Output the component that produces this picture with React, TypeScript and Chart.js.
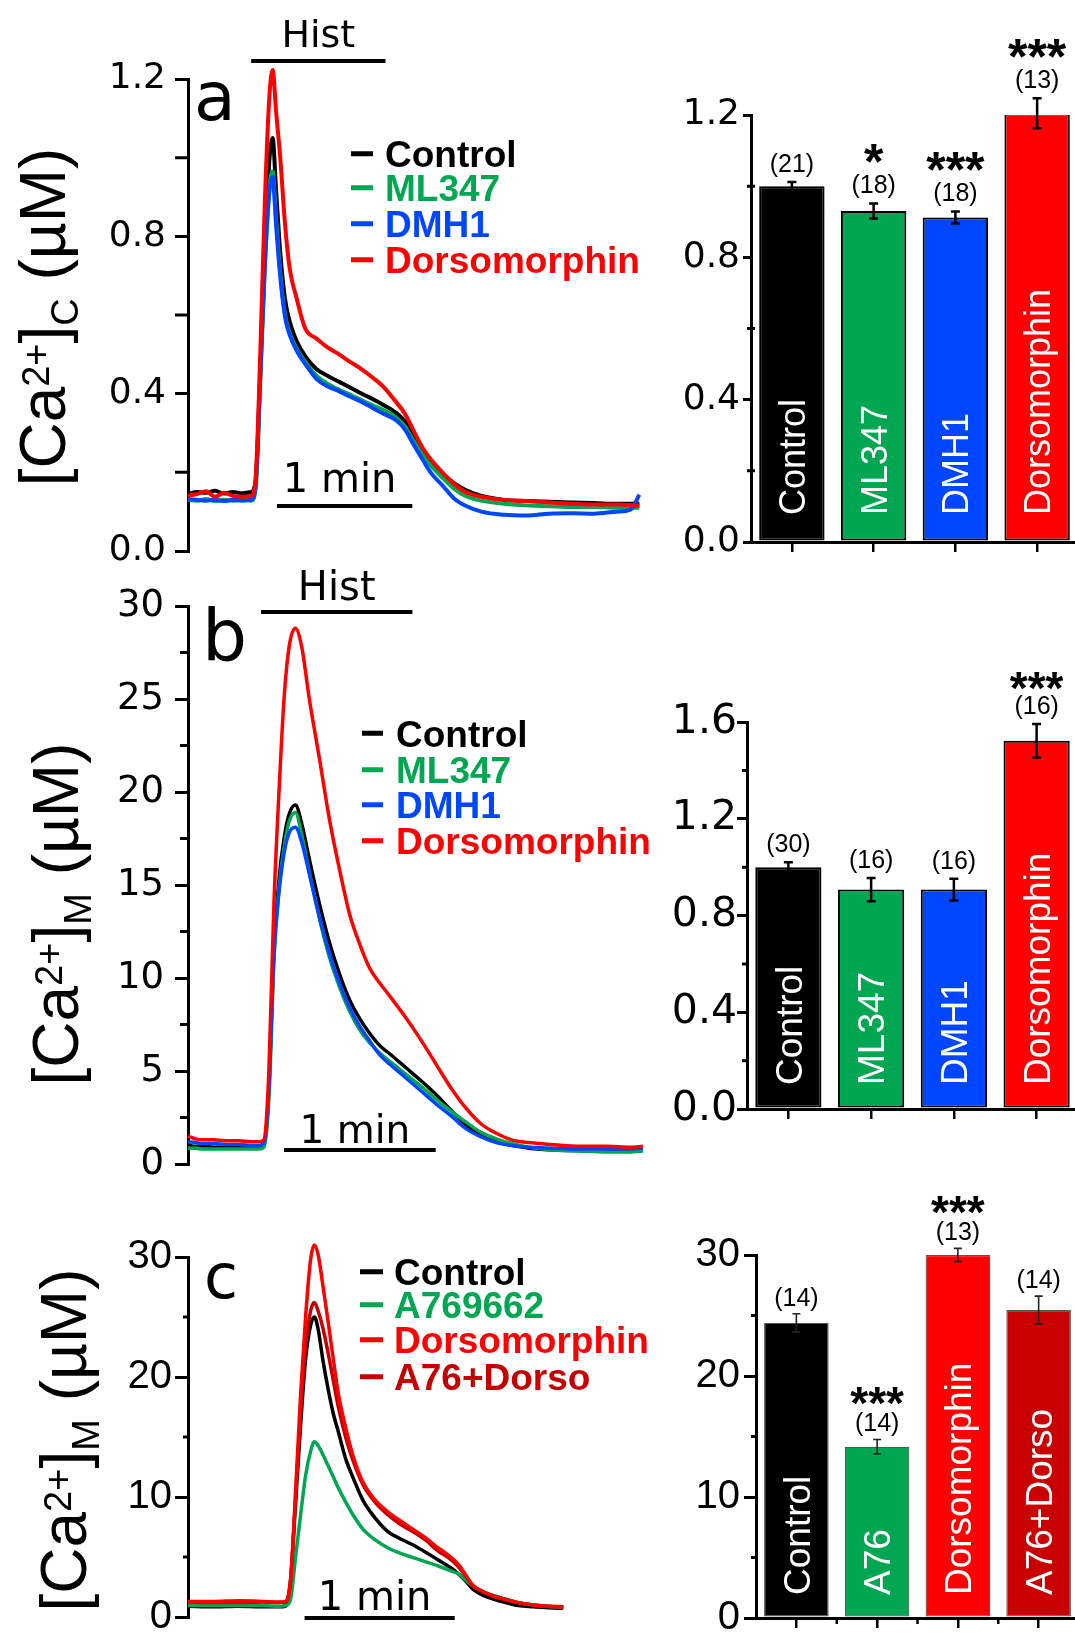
import React, { useEffect, useRef } from "react";
import { Chart, registerables } from "chart.js";

Chart.register(...registerables);

const SANS = '"Liberation Sans", Arial, Helvetica, sans-serif';
const WIDE = '"DejaVu Sans", Verdana, sans-serif';

const BLACK = "#000000";
const GREEN = "#00A651";
const BLUE = "#0046FF";
const RED = "#FF0000";
const DARK_RED = "#C40000";

// ---------- Panel a: cytosolic [Ca2+] (µM) against time (s) ----------
const timeA = [0, 4, 8, 12, 16, 20, 24, 28, 30, 32, 34, 36, 37.5, 39, 41, 43, 45, 48, 52, 57, 62, 67, 72, 77, 82, 87, 92, 96, 100, 104, 108, 113, 118, 123, 130, 140, 150, 160, 170, 180, 190, 196, 200];
const controlA = [0.145, 0.15, 0.148, 0.153, 0.146, 0.15, 0.147, 0.15, 0.18, 0.45, 0.75, 0.99, 1.05, 0.92, 0.75, 0.64, 0.585, 0.535, 0.495, 0.462, 0.445, 0.43, 0.415, 0.4, 0.386, 0.37, 0.352, 0.33, 0.29, 0.255, 0.224, 0.195, 0.172, 0.155, 0.14, 0.13, 0.127, 0.125, 0.123, 0.122, 0.12, 0.12, 0.12];
const ml347A = [0.13, 0.128, 0.132, 0.127, 0.13, 0.128, 0.13, 0.128, 0.16, 0.43, 0.72, 0.92, 0.965, 0.85, 0.7, 0.6, 0.555, 0.516, 0.48, 0.445, 0.425, 0.41, 0.397, 0.383, 0.37, 0.357, 0.34, 0.318, 0.28, 0.245, 0.215, 0.185, 0.158, 0.14, 0.128, 0.12, 0.116, 0.114, 0.112, 0.112, 0.11, 0.11, 0.11];
const dmh1A = [0.132, 0.13, 0.128, 0.13, 0.127, 0.13, 0.128, 0.13, 0.17, 0.44, 0.72, 0.91, 0.95, 0.83, 0.69, 0.595, 0.55, 0.511, 0.475, 0.437, 0.418, 0.406, 0.392, 0.379, 0.363, 0.348, 0.333, 0.31, 0.27, 0.232, 0.196, 0.165, 0.133, 0.115, 0.1, 0.092, 0.09, 0.095, 0.096, 0.095, 0.1, 0.105, 0.143];
const dorsoA = [0.14, 0.145, 0.152, 0.138, 0.148, 0.14, 0.138, 0.14, 0.19, 0.5, 0.88, 1.15, 1.223, 1.12, 0.99, 0.83, 0.72, 0.645, 0.565, 0.54, 0.517, 0.5, 0.48, 0.462, 0.44, 0.415, 0.38, 0.35, 0.305, 0.262, 0.23, 0.198, 0.17, 0.15, 0.138, 0.13, 0.127, 0.123, 0.12, 0.118, 0.118, 0.117, 0.115];
const legendA = ["Control", "ML347", "DMH1", "Dorsomorphin"];
const histA = [28, 87.5];
const scaleBarA = [39.4, 99.4];

// ---------- Panel b: mitochondrial [Ca2+] (µM) ----------
const timeB = [0, 3, 6, 10, 15, 20, 25, 28, 30, 32, 34, 36, 38, 40, 42.5, 45, 48, 52, 56, 60, 64, 68, 72, 76, 80, 86, 92, 98, 104, 110, 116, 122, 128, 135, 145, 155, 165, 175, 180];
const controlB = [1.0, 0.95, 0.95, 0.9, 0.9, 0.9, 0.9, 0.9, 1.0, 4.0, 11.5, 15.3, 17.5, 18.8, 19.3, 18.3, 16.4, 14.0, 11.9, 10.2, 8.8, 7.8, 7.0, 6.35, 5.9, 5.2, 4.5, 3.75, 2.9, 2.1, 1.55, 1.2, 1.0, 0.85, 0.75, 0.72, 0.72, 0.72, 0.75];
const ml347B = [0.85, 0.85, 0.8, 0.8, 0.8, 0.8, 0.8, 0.8, 0.9, 3.5, 11.0, 14.8, 17.0, 18.4, 18.9, 17.7, 15.7, 13.2, 11.1, 9.5, 8.2, 7.2, 6.5, 5.95, 5.5, 4.85, 4.2, 3.5, 2.85, 2.25, 1.7, 1.35, 1.1, 0.9, 0.75, 0.7, 0.65, 0.65, 0.7];
const dmh1B = [1.2, 1.15, 1.1, 1.1, 1.05, 1.05, 1.0, 1.0, 1.1, 4.0, 11.2, 14.6, 16.7, 17.8, 18.1, 17.3, 15.6, 13.3, 11.3, 9.7, 8.4, 7.4, 6.6, 5.85, 5.35, 4.65, 3.95, 3.25, 2.6, 1.9, 1.45, 1.15, 1.0, 0.9, 0.85, 0.8, 0.8, 0.82, 0.85];
const dorsoB = [1.5, 1.35, 1.3, 1.3, 1.25, 1.25, 1.2, 1.2, 1.3, 5.0, 14.0, 20.0, 25.0, 27.8, 28.8, 27.8, 25.0, 21.8, 18.5, 15.8, 13.4, 11.8, 10.5, 9.7, 9.0, 7.9, 6.7, 5.4, 4.1, 3.0, 2.15, 1.65, 1.3, 1.15, 1.03, 0.95, 0.95, 0.9, 0.95];
const legendB = ["Control", "ML347", "DMH1", "Dorsomorphin"];
const histB = [28.9, 88.8];
const scaleBarB = [38, 98];

// ---------- Panel c: mitochondrial [Ca2+] (µM), AMPK activator ----------
const timeC = [0, 10, 20, 30, 36, 39, 41, 43, 45, 47, 49, 50.5, 52, 54, 56, 58, 60, 63, 66, 70, 75, 80, 85, 90, 95, 100, 105, 108, 111, 114, 118, 122, 127, 132, 138, 144, 150];
const controlC = [0.9, 0.85, 0.9, 0.85, 0.85, 0.9, 3.0, 9.5, 16.0, 21.5, 24.3, 25.0, 24.0, 21.3, 19.0, 17.0, 15.5, 13.2, 11.6, 9.7, 8.2, 7.1, 6.5, 6.0, 5.4, 4.75, 4.1, 3.6, 3.0, 2.3, 1.8, 1.5, 1.2, 0.95, 0.85, 0.78, 0.72];
const a769662C = [0.95, 0.95, 0.95, 0.95, 0.9, 0.95, 1.5, 5.0, 8.5, 11.8, 13.8, 14.6, 14.3, 13.5, 12.6, 11.7, 10.8, 9.6, 8.5, 7.3, 6.4, 5.75, 5.3, 4.95, 4.6, 4.25, 3.85, 3.6, 3.1, 2.55, 2.1, 1.8, 1.5, 1.2, 1.0, 0.88, 0.8];
const dorsoC = [1.3, 1.3, 1.35, 1.3, 1.25, 1.3, 3.0, 10.5, 18.5, 25.0, 29.8, 31.0, 30.2, 27.5, 24.6, 21.6, 18.7, 15.8, 13.4, 11.2, 9.7, 8.75, 8.0, 7.3, 6.6, 5.75, 5.0, 4.4, 3.5, 2.6, 2.1, 1.75, 1.45, 1.2, 1.0, 0.9, 0.83];
const a76DorsoC = [1.25, 1.2, 1.2, 1.25, 1.2, 1.25, 3.2, 10.0, 17.0, 22.5, 25.5, 26.2, 25.5, 24.0, 22.0, 19.8, 17.6, 15.0, 13.0, 11.0, 9.5, 8.5, 7.7, 7.1, 6.4, 5.5, 4.8, 4.2, 3.4, 2.6, 2.1, 1.75, 1.45, 1.2, 1.0, 0.9, 0.85];
const legendC = ["Control", "A769662", "Dorsomorphin", "A76+Dorso"];
const scaleBarC = [46.6, 106.6];

// ---------- Bar summaries (normalised peak / peak µM), mean ± s.e.m. ----------
const barLabelsA = ["Control", "ML347", "DMH1", "Dorsomorphin"];
const barMeansA = [1.0, 0.93, 0.912, 1.205];
const barErrA = [0.012, 0.021, 0.017, 0.042];
const barNA = ["(21)", "(18)", "(18)", "(13)"];
const barStarsA = ["", "*", "***", "***"];

const barLabelsB = ["Control", "ML347", "DMH1", "Dorsomorphin"];
const barMeansB = [1.0, 0.907, 0.907, 1.522];
const barErrB = [0.02, 0.048, 0.045, 0.07];
const barNB = ["(30)", "(16)", "(16)", "(16)"];
const barStarsB = ["", "", "", "***"];

const barLabelsC = ["Control", "A76", "Dorsomorphin", "A76+Dorso"];
const barMeansC = [24.4, 14.15, 30.0, 25.45];
const barErrC = [0.75, 0.6, 0.55, 1.15];
const barNC = ["(14)", "(14)", "(13)", "(14)"];
const barStarsC = ["", "***", "***", ""];

// Rotated y-axis title: [Ca2+]X (µM) with raised charge and lowered compartment.
function drawTitle(ctx: CanvasRenderingContext2D, baseX: number, centerY: number, sub: string, F: number) {
  const small = Math.round(F * 0.6);
  const parts = [
    { t: "[Ca", size: F, dy: 0 },
    { t: "2+", size: small, dy: -0.24 * F },
    { t: "]", size: F, dy: 0 },
    { t: sub, size: small, dy: 0.21 * F },
    { t: " (µM)", size: F, dy: 0 },
  ];
  let total = 0;
  const widths = parts.map((p) => {
    ctx.font = `${p.size}px ${SANS}`;
    const w = ctx.measureText(p.t).width;
    total += w;
    return w;
  });
  ctx.save();
  ctx.translate(baseX, centerY);
  ctx.rotate(-Math.PI / 2);
  ctx.fillStyle = "#000";
  ctx.textAlign = "left";
  ctx.textBaseline = "alphabetic";
  let x = -total / 2;
  parts.forEach((p, i) => {
    ctx.font = `${p.size}px ${SANS}`;
    ctx.fillText(p.t, x, p.dy);
    x += widths[i];
  });
  ctx.restore();
}

function traceDecor(p: any) {
  return {
    id: "traceDecor",
    afterDatasetsDraw(chart: any) {
      const ctx = chart.ctx as CanvasRenderingContext2D;
      const xs = chart.scales.x;
      const ys = chart.scales.y;
      const X = (v: number) => v - p.left;
      const Y = (v: number) => v - p.top;
      const axis = chart.chartArea.left;
      ctx.save();
      ctx.fillStyle = "#000";
      ctx.strokeStyle = "#000";

      // minor ticks between the labelled ones
      ctx.lineWidth = 3;
      ctx.beginPath();
      for (let k = 1; k * p.minorStep < p.yMax - 1e-9; k += 2) {
        const y = ys.getPixelForValue(k * p.minorStep);
        ctx.moveTo(axis - p.minorLen, y);
        ctx.lineTo(axis, y);
      }
      ctx.stroke();

      // histamine application bar
      if (p.hist) {
        const h0 = xs.getPixelForValue(p.hist[0]);
        const h1 = xs.getPixelForValue(p.hist[1]);
        ctx.fillRect(h0, Y(p.histY) - 2, h1 - h0, 4);
        ctx.font = `${p.histFont}px ${WIDE}`;
        ctx.textAlign = "center";
        ctx.textBaseline = "alphabetic";
        ctx.fillText("Hist", (h0 + h1) / 2, Y(p.histBaseline));
      }

      // 1 min time scale bar
      const s0 = xs.getPixelForValue(p.scaleBar[0]);
      const s1 = xs.getPixelForValue(p.scaleBar[1]);
      ctx.fillRect(s0, Y(p.scaleY) - 2, s1 - s0, 4);
      ctx.font = `${p.scaleFont}px ${WIDE}`;
      ctx.textAlign = "center";
      ctx.textBaseline = "alphabetic";
      ctx.fillText("1 min", (s0 + s1) / 2 - 5, Y(p.scaleBaseline));

      // legend
      const lg = p.legend;
      const capH = 0.716 * lg.font;
      chart.data.datasets.forEach((ds: any, i: number) => {
        const base = Y(lg.baselines[i]);
        ctx.fillStyle = ds.borderColor;
        ctx.fillRect(X(lg.x0), base - capH / 2 - 2.5, lg.x1 - lg.x0, 5);
        ctx.font = `bold ${lg.font}px ${SANS}`;
        ctx.textAlign = "left";
        ctx.fillText(ds.label, X(lg.textX), base);
      });

      // panel letter
      ctx.fillStyle = "#000";
      ctx.font = `${p.letterFont}px ${WIDE}`;
      ctx.textAlign = "left";
      ctx.fillText(p.letter, X(p.letterX), Y(p.letterBaseline));

      drawTitle(ctx, X(p.titleX), Y(p.titleY), p.titleSub, p.titleFont);
      ctx.restore();
    },
  };
}

function lineConfig(p: any) {
  const datasets = p.series.map((s: any, i: number) => ({
    label: s.label,
    data: p.times.map((t: number, k: number) => ({ x: t, y: s.values[k] })),
    borderColor: s.color,
    backgroundColor: s.color,
    borderWidth: p.lineWidth,
    pointRadius: 0,
    cubicInterpolationMode: "monotone",
    clip: false,
    order: p.order[i],
  }));
  return {
    type: "line",
    data: { datasets },
    options: {
      responsive: false,
      animation: false,
      events: [],
      layout: {
        padding: {
          left: 0,
          top: p.plotTop - p.top,
          right: p.left + p.width - p.plotRight,
          bottom: p.top + p.height - p.plotBottom,
        },
      },
      plugins: { legend: { display: false }, tooltip: { enabled: false } },
      scales: {
        x: { type: "linear", min: 0, max: p.tMax, display: false },
        y: {
          type: "linear",
          min: 0,
          max: p.yMax,
          afterFit: (s: any) => {
            s.width = p.axisX - p.left;
          },
          border: { display: true, color: "#000", width: 3 },
          grid: { drawOnChartArea: false, drawTicks: true, tickLength: p.tickLen, lineWidth: 3, color: "#000", tickColor: "#000" },
          ticks: {
            stepSize: p.majorStep,
            color: "#000",
            padding: p.tickPad,
            font: { family: p.tickFont, size: p.tickSize },
            callback: (v: any) => Number(v).toFixed(p.decimals),
          },
        },
      },
    },
    plugins: [traceDecor(p)],
  };
}

function barDecor(p: any) {
  return {
    id: "barDecor",
    afterDatasetsDraw(chart: any) {
      const ctx = chart.ctx as CanvasRenderingContext2D;
      const xs = chart.scales.x;
      const ys = chart.scales.y;
      const axis = chart.chartArea.left;
      const meta = chart.getDatasetMeta(0);
      ctx.save();

      // minor y ticks
      ctx.strokeStyle = "#000";
      ctx.lineWidth = 3;
      ctx.beginPath();
      for (let k = 1; k * p.minorStep < p.yMax - 1e-9; k += 2) {
        const y = ys.getPixelForValue(k * p.minorStep);
        ctx.moveTo(axis - p.minorOut, y);
        ctx.lineTo(axis + p.minorIn, y);
      }
      ctx.stroke();

      // short x ticks on category boundaries
      if (p.boundaryTicks) {
        ctx.lineWidth = 2.5;
        ctx.beginPath();
        const yb = chart.chartArea.bottom;
        for (let i = 0; i < p.means.length - 1; i++) {
          const xb = (xs.getPixelForValue(i) + xs.getPixelForValue(i + 1)) / 2;
          ctx.moveTo(xb, yb);
          ctx.lineTo(xb, yb + 6);
        }
        ctx.stroke();
      }

      const zeroY = ys.getPixelForValue(0);
      p.means.forEach((m: number, i: number) => {
        const cx = meta.data[i].x;
        const yTop = ys.getPixelForValue(m + p.errors[i]);
        const yBot = ys.getPixelForValue(m - p.errors[i]);

        // error bar
        ctx.strokeStyle = p.errColor;
        ctx.lineWidth = p.errWidth;
        ctx.beginPath();
        ctx.moveTo(cx, yTop);
        ctx.lineTo(cx, yBot);
        ctx.moveTo(cx - p.capHalf, yTop);
        ctx.lineTo(cx + p.capHalf, yTop);
        ctx.moveTo(cx - p.capHalf, yBot);
        ctx.lineTo(cx + p.capHalf, yBot);
        ctx.stroke();

        // cell count and significance
        const nY = yTop - p.nGap;
        ctx.fillStyle = "#000";
        ctx.font = `${p.nFont}px ${SANS}`;
        ctx.textAlign = "center";
        ctx.textBaseline = "middle";
        ctx.fillText(p.n[i], cx, nY);
        if (p.stars[i]) {
          ctx.font = `bold ${p.starFont}px ${SANS}`;
          ctx.textBaseline = "alphabetic";
          ctx.fillText(p.stars[i], cx, nY - p.starGap + 0.575 * p.starFont);
        }

        // condition name written up the bar
        ctx.save();
        ctx.translate(cx, zeroY - p.labelOffset);
        ctx.rotate(-Math.PI / 2);
        ctx.font = `${p.labelFont}px ${SANS}`;
        ctx.fillStyle = "#fff";
        ctx.textAlign = "left";
        ctx.textBaseline = "alphabetic";
        ctx.fillText(chart.data.labels[i], 0, (0.716 * p.labelFont) / 2);
        ctx.restore();
      });
      ctx.restore();
    },
  };
}

function barConfig(p: any) {
  return {
    type: "bar",
    data: {
      labels: p.labels,
      datasets: [
        {
          data: p.means,
          backgroundColor: p.colors,
          borderColor: p.borderColor,
          borderWidth: p.borderWidth,
          borderSkipped: false,
          barPercentage: 0.8,
          categoryPercentage: 1,
        },
      ],
    },
    options: {
      responsive: false,
      animation: false,
      events: [],
      layout: {
        padding: { left: 0, top: p.plotTop - p.top, right: p.left + p.width - p.plotRight, bottom: 0 },
      },
      plugins: { legend: { display: false }, tooltip: { enabled: false } },
      scales: {
        x: {
          type: "category",
          offset: true,
          afterFit: (s: any) => {
            s.height = p.top + p.height - p.plotBottom;
          },
          border: { display: true, color: "#000", width: 3 },
          grid: { offset: false, drawOnChartArea: false, drawTicks: true, tickLength: 10, lineWidth: 2.5, color: "#000", tickColor: "#000" },
          ticks: { display: false },
        },
        y: {
          type: "linear",
          min: 0,
          max: p.yMax,
          afterFit: (s: any) => {
            s.width = p.axisX - p.left;
          },
          border: { display: true, color: "#000", width: 3 },
          grid: { drawOnChartArea: false, drawTicks: true, tickLength: p.tickLen, lineWidth: 3, color: "#000", tickColor: "#000" },
          ticks: {
            stepSize: p.majorStep,
            color: "#000",
            padding: p.tickPad,
            font: { family: p.tickFont, size: p.tickSize },
            callback: (v: any) => Number(v).toFixed(p.decimals),
          },
        },
      },
    },
    plugins: [barDecor(p)],
  };
}

// ---------- Panel layouts (page pixel coordinates) ----------
const traceA = {
  left: 0, top: 0, width: 660, height: 600,
  axisX: 188, plotTop: 79, plotBottom: 551, plotRight: 639.4,
  tMax: 200, yMax: 1.2, majorStep: 0.4, minorStep: 0.2, minorLen: 13, decimals: 1,
  tickFont: WIDE, tickSize: 36, tickPad: 9, tickLen: 13,
  times: timeA,
  series: [
    { label: legendA[0], values: controlA, color: BLACK },
    { label: legendA[1], values: ml347A, color: GREEN },
    { label: legendA[2], values: dmh1A, color: BLUE },
    { label: legendA[3], values: dorsoA, color: RED },
  ],
  order: [3, 2, 1, 0],
  hist: histA, histY: 61, histBaseline: 47, histFont: 38,
  scaleBar: scaleBarA, scaleY: 506, scaleBaseline: 492, scaleFont: 40,
  legend: { x0: 351, x1: 373, textX: 385, baselines: [167, 201, 237, 273], font: 37 },
  letter: "a", letterX: 194, letterBaseline: 120, letterFont: 68,
  titleSub: "C", titleX: 64.6, titleY: 317, titleFont: 64,
  lineWidth: 4,
};

const traceB = {
  left: 0, top: 560, width: 660, height: 650,
  axisX: 188, plotTop: 606, plotBottom: 1164, plotRight: 642.9,
  tMax: 180, yMax: 30, majorStep: 5, minorStep: 2.5, minorLen: 8, decimals: 0,
  tickFont: WIDE, tickSize: 37, tickPad: 11, tickLen: 13,
  times: timeB,
  series: [
    { label: legendB[0], values: controlB, color: BLACK },
    { label: legendB[1], values: ml347B, color: GREEN },
    { label: legendB[2], values: dmh1B, color: BLUE },
    { label: legendB[3], values: dorsoB, color: RED },
  ],
  order: [3, 2, 1, 0],
  hist: histB, histY: 612, histBaseline: 600, histFont: 40,
  scaleBar: scaleBarB, scaleY: 1150, scaleBaseline: 1143, scaleFont: 39,
  legend: { x0: 362, x1: 383, textX: 396, baselines: [746.5, 783, 818, 854], font: 37 },
  letter: "b", letterX: 202, letterBaseline: 660, letterFont: 71,
  titleSub: "M", titleX: 77.6, titleY: 914, titleFont: 64,
  lineWidth: 3.5,
};

const traceC = {
  left: 0, top: 1180, width: 660, height: 500,
  axisX: 188, plotTop: 1257, plotBottom: 1617, plotRight: 563.3,
  tMax: 150, yMax: 30, majorStep: 10, minorStep: 5, minorLen: 5, decimals: 0,
  tickFont: SANS, tickSize: 40, tickPad: 3, tickLen: 13,
  times: timeC,
  series: [
    { label: legendC[0], values: controlC, color: BLACK },
    { label: legendC[1], values: a769662C, color: GREEN },
    { label: legendC[2], values: dorsoC, color: RED },
    { label: legendC[3], values: a76DorsoC, color: DARK_RED },
  ],
  order: [3, 2, 0, 1],
  hist: null, histY: 0, histBaseline: 0, histFont: 0,
  scaleBar: scaleBarC, scaleY: 1618, scaleBaseline: 1610, scaleFont: 40,
  legend: { x0: 360, x1: 383, textX: 394, baselines: [1285, 1318, 1353, 1390], font: 37 },
  letter: "c", letterX: 204, letterBaseline: 1298, letterFont: 62,
  titleSub: "M", titleX: 86, titleY: 1440, titleFont: 64,
  lineWidth: 3.5,
};

const summaryA = {
  left: 660, top: 0, width: 418, height: 572,
  axisX: 751, plotTop: 115, plotBottom: 542, plotRight: 1078,
  yMax: 1.2, majorStep: 0.4, minorStep: 0.2, minorOut: 4, minorIn: 4, decimals: 1,
  tickFont: WIDE, tickSize: 36, tickPad: 3, tickLen: 8,
  labels: barLabelsA, means: barMeansA, errors: barErrA, n: barNA, stars: barStarsA,
  colors: [BLACK, GREEN, BLUE, RED], borderColor: "#000", borderWidth: 2,
  errColor: "#000", errWidth: 2.5, capHalf: 4.5,
  nFont: 25, nGap: 17, starFont: 50, starGap: 36, labelFont: 36, labelOffset: 27,
  boundaryTicks: false,
};

const summaryB = {
  left: 660, top: 590, width: 418, height: 549,
  axisX: 747, plotTop: 722, plotBottom: 1109, plotRight: 1078,
  yMax: 1.6, majorStep: 0.4, minorStep: 0.2, minorOut: 5, minorIn: 0, decimals: 1,
  tickFont: WIDE, tickSize: 41, tickPad: 0, tickLen: 10,
  labels: barLabelsB, means: barMeansB, errors: barErrB, n: barNB, stars: barStarsB,
  colors: [BLACK, GREEN, BLUE, RED], borderColor: "#000", borderWidth: 2,
  errColor: "#000", errWidth: 2.5, capHalf: 4.5,
  nFont: 25, nGap: 17, starFont: 46, starGap: 29, labelFont: 37, labelOffset: 24,
  boundaryTicks: false,
};

const summaryC = {
  left: 660, top: 1150, width: 419, height: 498,
  axisX: 756, plotTop: 1255, plotBottom: 1618, plotRight: 1079,
  yMax: 30, majorStep: 10, minorStep: 5, minorOut: 5, minorIn: 0, decimals: 0,
  tickFont: SANS, tickSize: 40, tickPad: 4, tickLen: 12,
  labels: barLabelsC, means: barMeansC, errors: barErrC, n: barNC, stars: barStarsC,
  colors: [BLACK, GREEN, RED, "#C80000"], borderColor: "#555", borderWidth: 1.2,
  errColor: "#222", errWidth: 1.6, capHalf: 4,
  nFont: 25, nGap: 15, starFont: 46, starGap: 32, labelFont: 37, labelOffset: 23,
  boundaryTicks: true,
};

function ChartCanvas({ panel, make }: { panel: any; make: (p: any) => any }) {
  const ref = useRef<HTMLCanvasElement | null>(null);
  useEffect(() => {
    const chart = new Chart(ref.current as HTMLCanvasElement, make(panel) as any);
    return () => chart.destroy();
  }, [panel, make]);
  return (
    <canvas
      ref={ref}
      width={panel.width}
      height={panel.height}
      style={{ position: "absolute", left: panel.left, top: panel.top, width: panel.width, height: panel.height }}
    />
  );
}

export default function App() {
  return (
    <div
      style={{
        position: "absolute",
        left: 0,
        top: 0,
        width: 1075,
        height: 1635,
        overflow: "hidden",
        background: "#ffffff",
      }}
    >
      <ChartCanvas panel={traceA} make={lineConfig} />
      <ChartCanvas panel={traceB} make={lineConfig} />
      <ChartCanvas panel={traceC} make={lineConfig} />
      <ChartCanvas panel={summaryA} make={barConfig} />
      <ChartCanvas panel={summaryB} make={barConfig} />
      <ChartCanvas panel={summaryC} make={barConfig} />
    </div>
  );
}
